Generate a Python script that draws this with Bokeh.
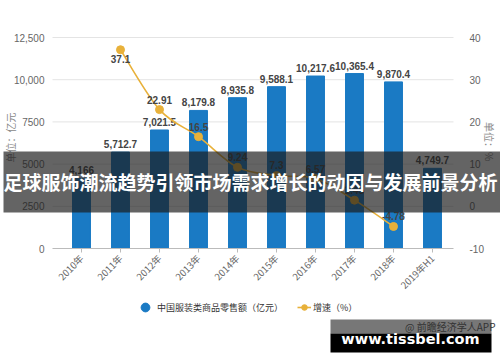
import math
from bokeh.plotting import figure
from bokeh.models import (Range1d, LinearAxis, FixedTicker, Label, Legend, LegendItem,
                          ColumnDataSource, BoxAnnotation)
from bokeh.core.properties import value
from bokeh.embed import file_html
from bokeh.resources import INLINE

# ---- data ----
categories = ["2010年", "2011年", "2012年", "2013年", "2014年", "2015年",
              "2016年", "2017年", "2018年", "2019年H1"]
sales = [4166, 5712.7, 7021.5, 8179.8, 8935.8, 9588.1, 10217.6, 10365.4, 9870.4, 4749.7]
sales_labels = ["4,166", "5,712.7", "7,021.5", "8,179.8", "8,935.8", "9,588.1",
                "10,217.6", "10,365.4", "9,870.4", "4,749.7"]
growth = [float("nan"), 37.1, 22.91, 16.5, 9.24, 7.3, 6.57, 1.45, -4.78, float("nan")]
growth_labels = ["", "37.1", "22.91", "16.5", "9.24", "7.3", "6.57", "1.45", "-4.78", ""]
left_ticks = [0, 2500, 5000, 7500, 10000, 12500]
left_tick_labels = ["0", "2500", "5000", "7500", "10,000", "12,500"]
right_ticks = [-10, 0, 10, 20, 30, 40]
right_tick_labels = ["-10", "0", "10", "20", "30", "40"]
series_names = ["中国服装类商品零售额（亿元）", "增速（%）"]
unit_left = "单位：亿元"
unit_right = "单位：%"
banner_text = "足球服饰潮流趋势引领市场需求增长的动因与发展前景分析"
source_text = "@ 前瞻经济学人APP"
site_text = "www.tissbel.com"

BLUE = "#1a7ac4"
GOLD = "#e8b13a"
CJK = "Noto Sans CJK SC"

W, H = 500, 362
# plot-area geometry (pixels in the canvas)
PX0, PX1 = 52, 453          # plot area left / right
PY_TOP, PY_BOT = 37, 248    # plot area top / bottom (from top)
CAT0_PX, CAT_STEP = 81, 39  # centre of first category, spacing

idx = list(range(len(categories)))

def xr(px):
    return (px - CAT0_PX) / CAT_STEP

ly0, ly1 = left_ticks[0], left_ticks[-1]
ry0, ry1 = right_ticks[0], right_ticks[-1]
lpp = (ly1 - ly0) / (PY_BOT - PY_TOP)
rpp = (ry1 - ry0) / (PY_BOT - PY_TOP)

p = figure(width=W, height=H, output_backend="svg", toolbar_location=None,
           x_range=Range1d(xr(0), xr(W)),
           y_range=Range1d(ly0 - (H - PY_BOT) * lpp, ly1 + PY_TOP * lpp),
           min_border=0, x_axis_type=None, y_axis_type=None)
p.outline_line_color = None
p.background_fill_color = "white"
p.extra_y_ranges = {"g": Range1d(ry0 - (H - PY_BOT) * rpp, ry1 + PY_TOP * rpp)}
p.xgrid.grid_line_color = None
p.ygrid.grid_line_color = None

xa, xb = xr(PX0), xr(PX1)

# horizontal grid lines across the plot area
n_grid = len(left_ticks) - 1
p.segment(x0=[xa] * n_grid, x1=[xb] * n_grid, y0=left_ticks[1:], y1=left_ticks[1:],
          line_color="#e4e4e4", line_width=1)

# axes drawn inside the canvas at fixed locations
xaxis = LinearAxis(ticker=FixedTicker(ticks=idx), fixed_location=ly0, bounds=(xa, xb),
                   major_label_overrides={i: c for i, c in zip(idx, categories)})
xaxis.major_label_orientation = math.pi / 4
xaxis.major_label_text_font = CJK
xaxis.major_label_text_font_size = "9.5px"
xaxis.major_label_text_color = "#666666"
xaxis.axis_line_color = "#bbbbbb"
xaxis.major_tick_line_color = "#bbbbbb"
xaxis.major_tick_out = 4
xaxis.major_tick_in = 0
xaxis.minor_tick_line_color = None
xaxis.major_label_standoff = 4
p.add_layout(xaxis, "below")

yaxis = LinearAxis(ticker=FixedTicker(ticks=left_ticks), fixed_location=xa,
                   major_label_overrides={t: l for t, l in zip(left_ticks, left_tick_labels)})
yaxis.axis_line_color = None
yaxis.major_tick_line_color = None
yaxis.minor_tick_line_color = None
yaxis.major_label_text_font = "Liberation Sans"
yaxis.major_label_text_font_size = "10px"
yaxis.major_label_text_color = "#666666"
yaxis.major_label_standoff = 2
p.add_layout(yaxis, "left")

raxis = LinearAxis(y_range_name="g", ticker=FixedTicker(ticks=right_ticks), fixed_location=xb,
                   major_label_overrides={t: l for t, l in zip(right_ticks, right_tick_labels)})
raxis.axis_line_color = None
raxis.major_tick_line_color = None
raxis.minor_tick_line_color = None
raxis.major_label_text_font = "Liberation Sans"
raxis.major_label_text_font_size = "10px"
raxis.major_label_text_color = "#666666"
raxis.major_label_standoff = 10
p.add_layout(raxis, "right")

src = ColumnDataSource(dict(x=idx, sales=sales, slab=sales_labels,
                            g=growth, glab=growth_labels))

p.vbar(x="x", top="sales", width=0.46, color=BLUE, source=src)
p.text(x="x", y="sales", text="slab", source=src, text_align="center",
       text_baseline="middle", y_offset=-8, text_font=value("Liberation Sans"),
       text_font_size="10px", text_font_style="bold", text_color="#444444")

# smoothed growth line: Catmull-Rom style bezier segments through the data points
valid = [i for i in idx if growth[i] == growth[i]]
pts = [(float(i), growth[i]) for i in valid]
n = len(pts)
bz = dict(x0=[], y0=[], x1=[], y1=[], cx0=[], cy0=[], cx1=[], cy1=[])
for k in range(n - 1):
    p0, p1, p2, p3 = pts[max(k - 1, 0)], pts[k], pts[k + 1], pts[min(k + 2, n - 1)]
    bz["x0"].append(p1[0]); bz["y0"].append(p1[1])
    bz["x1"].append(p2[0]); bz["y1"].append(p2[1])
    bz["cx0"].append(p1[0] + (p2[0] - p0[0]) / 6); bz["cy0"].append(p1[1] + (p2[1] - p0[1]) / 6)
    bz["cx1"].append(p2[0] - (p3[0] - p1[0]) / 6); bz["cy1"].append(p2[1] - (p3[1] - p1[1]) / 6)
line_r = p.bezier(x0="x0", y0="y0", x1="x1", y1="y1", cx0="cx0", cy0="cy0", cx1="cx1",
                  cy1="cy1", source=ColumnDataSource(bz), y_range_name="g",
                  line_color=GOLD, line_width=1.6)
pts_r = p.scatter(x="x", y="g", source=src, y_range_name="g", marker="circle", size=8,
                  fill_color=GOLD, line_color=GOLD)

gmax = max(growth[i] for i in valid)
up = [i for i in valid if growth[i] != gmax]
dn = [i for i in valid if growth[i] == gmax]
for sel, off in ((up, -10), (dn, 9)):
    s = ColumnDataSource(dict(x=sel, y=[growth[i] for i in sel], t=[growth_labels[i] for i in sel]))
    p.text(x="x", y="y", text="t", source=s, y_range_name="g", text_align="center",
           text_baseline="middle", y_offset=off, text_font=value("Liberation Sans"),
           text_font_size="10px", text_font_style="bold", text_color="#444444")

# legends (two, so that each keyed glyph has its own size)
proxy = p.scatter(x=[float("nan")], y=[float("nan")], marker="circle", size=10,
                  fill_color=BLUE, line_color=BLUE)
leg_style = dict(orientation="horizontal", padding=0, margin=0, border_line_color=None,
                 background_fill_alpha=0, label_text_font=CJK, label_text_font_size="9px",
                 label_text_color="#333333", label_height=10)
p.add_layout(Legend(items=[LegendItem(label=series_names[0], renderers=[proxy])],
                    location=(134, 43), label_standoff=1, glyph_width=22, glyph_height=24,
                    **leg_style), "center")
p.add_layout(Legend(items=[LegendItem(label=series_names[1], renderers=[line_r, pts_r])],
                    location=(297, 48), label_standoff=2, glyph_width=14, glyph_height=14,
                    **leg_style), "center")

# unit labels
p.add_layout(Label(x=10, y=225, x_units="screen", y_units="screen", text=unit_left,
                   angle=math.pi / 2, text_align="center", text_baseline="middle",
                   text_font=CJK, text_font_size="10px", text_color="#888888"))
p.add_layout(Label(x=489, y=221, x_units="screen", y_units="screen", text=unit_right,
                   angle=-math.pi / 2, text_align="center", text_baseline="middle",
                   text_font=CJK, text_font_size="10px", text_color="#888888"))

# overlay banner
p.add_layout(BoxAnnotation(left=3, right=W, top=211, bottom=150, left_units="screen",
                           right_units="screen", top_units="screen", bottom_units="screen",
                           fill_color="#1a1a1a", fill_alpha=0.68, line_color=None,
                           level="overlay"))
p.add_layout(Label(x=250, y=181, x_units="screen", y_units="screen", text=banner_text,
                   text_align="center", text_baseline="middle", text_font=CJK,
                   text_font_size="19px", text_font_style="bold", text_color="white",
                   level="overlay"))

# bottom-right site banner
p.add_layout(BoxAnnotation(left=330, right=491, top=43, bottom=29, left_units="screen",
                           right_units="screen", top_units="screen", bottom_units="screen",
                           fill_color="#777777", fill_alpha=1, line_color=None, level="overlay"))
p.add_layout(BoxAnnotation(left=330, right=491, top=29, bottom=10, left_units="screen",
                           right_units="screen", top_units="screen", bottom_units="screen",
                           fill_color="#000000", fill_alpha=1, line_color=None, level="overlay"))
p.add_layout(Label(x=495, y=36, x_units="screen", y_units="screen", text=source_text,
                   text_align="right", text_baseline="middle", text_font=CJK,
                   text_font_size="10px", text_color="#333333", level="overlay"))
p.add_layout(Label(x=410, y=24, x_units="screen", y_units="screen", text=site_text,
                   text_align="center", text_baseline="middle", text_font="DejaVu Sans",
                   text_font_size="14.5px", text_font_style="bold", text_color="white",
                   level="overlay"))

open("out.html", "w").write(file_html(p, INLINE))
